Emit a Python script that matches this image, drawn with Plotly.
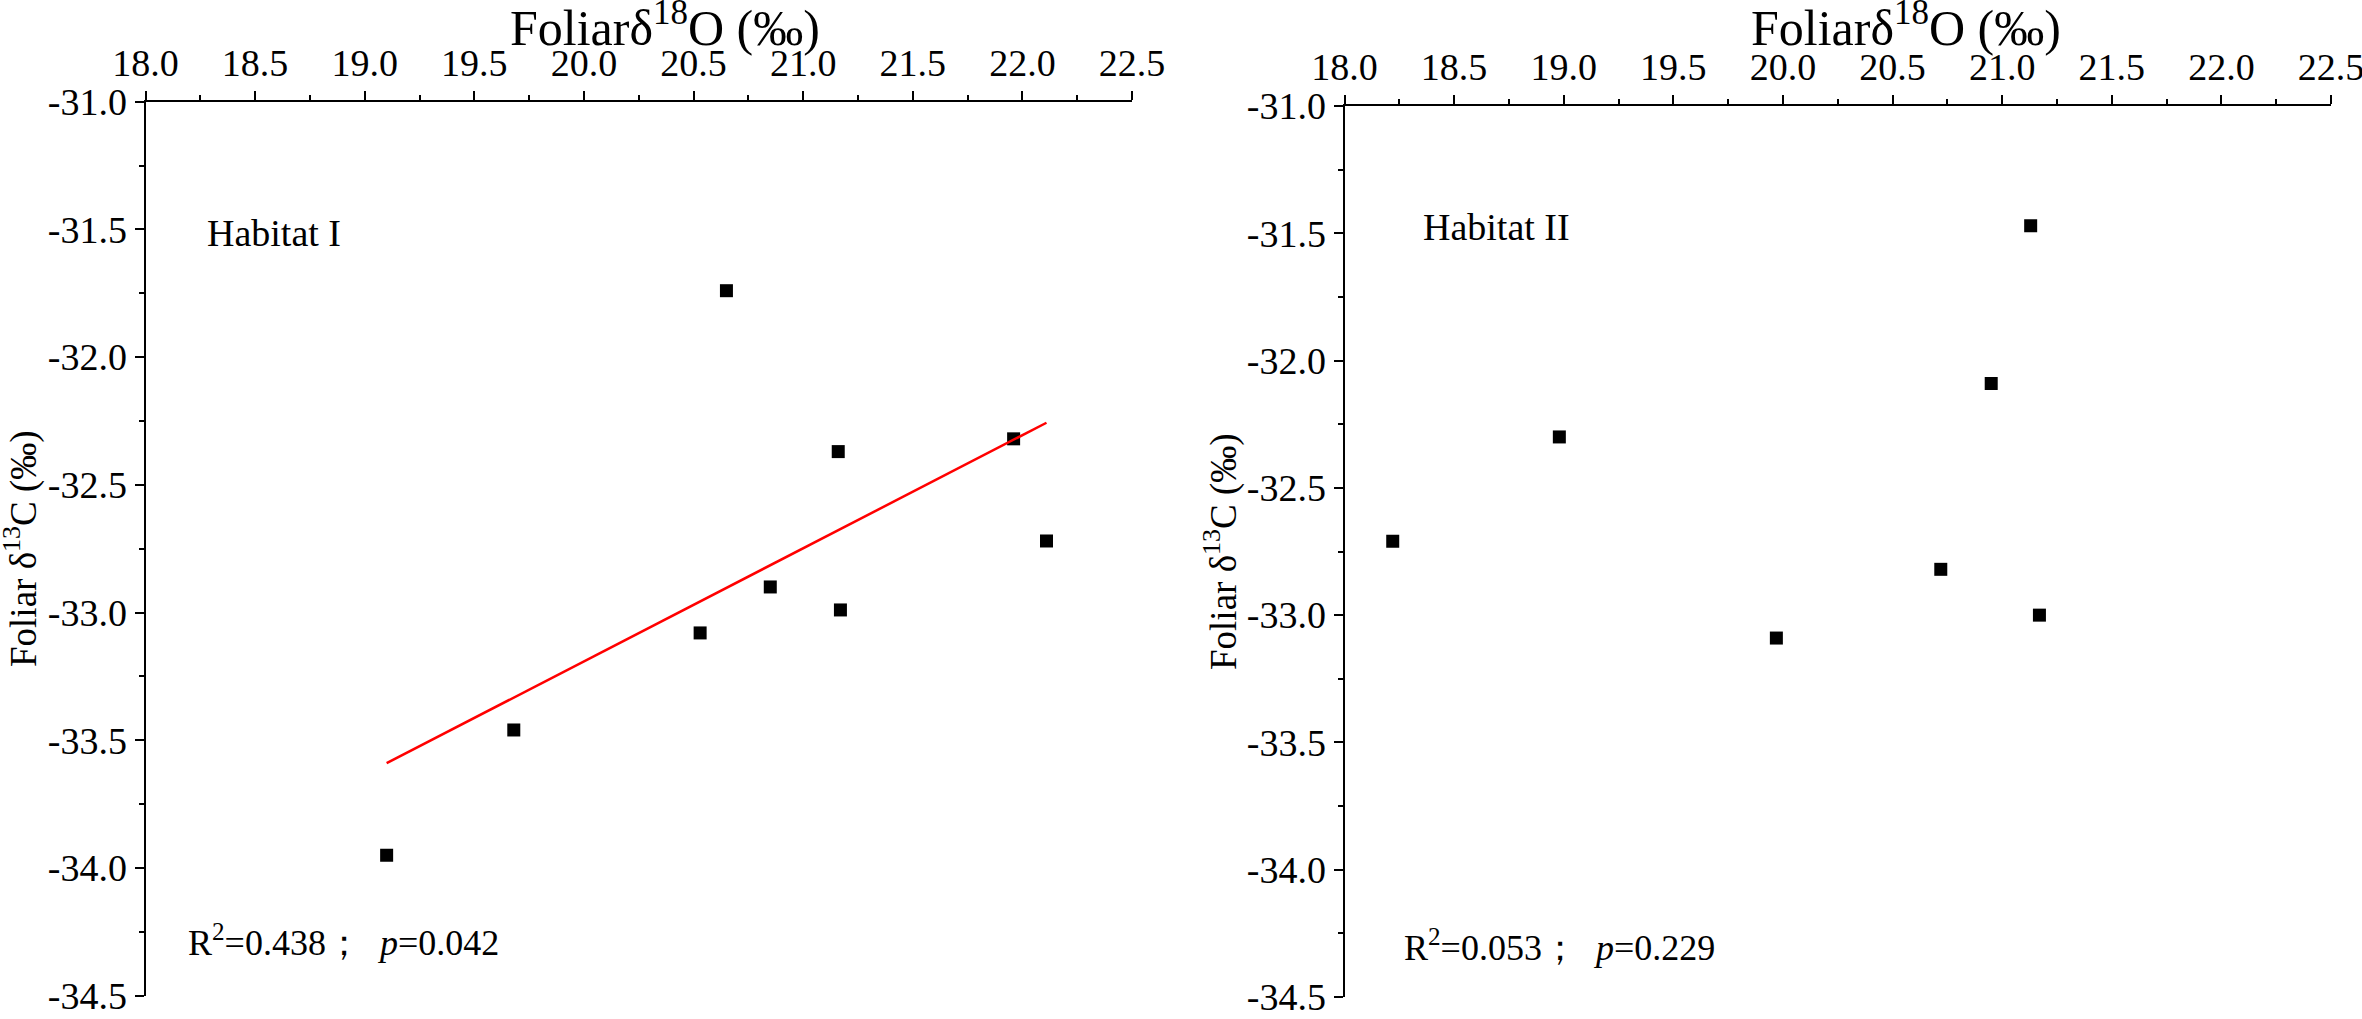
import numpy as np
import plotly.graph_objects as go
from plotly.subplots import make_subplots

# foliar d18O (x) vs foliar d13C (y)
hab1_d18o = [20.65, 21.16, 21.96, 22.11, 20.85, 21.17, 20.53, 19.68, 19.10]
hab1_d13c = [-31.74, -32.37, -32.32, -32.72, -32.90, -32.99, -33.08, -33.46, -33.95]
hab2_d18o = [21.13, 20.95, 18.98, 18.22, 20.72, 21.17, 19.97]
hab2_d13c = [-31.47, -32.09, -32.30, -32.71, -32.82, -33.00, -33.09]

x_ticks = [18.0, 18.5, 19.0, 19.5, 20.0, 20.5, 21.0, 21.5, 22.0, 22.5]
y_ticks = [-31.0, -31.5, -32.0, -32.5, -33.0, -33.5, -34.0, -34.5]
x_ticktext = ["%.1f" % v for v in x_ticks]
y_ticktext = ["%.1f" % v for v in y_ticks]   # plain hyphen like the original

hab_labels = ["Habitat I", "Habitat II"]
stats_text = ["R<sup>2</sup>=0.438；  <i>p</i>=0.042", "R<sup>2</sup>=0.053；  <i>p</i>=0.229"]

W, H = 2362, 1019
FONT = "Liberation Serif, Times New Roman, serif"


def px(x, y):
    # pixel position -> paper coords
    return x / W, 1 - y / H


#%% linear fit for habitat I
slope, icpt = np.polyfit(hab1_d18o, hab1_d13c, 1)
fit_x = np.array([min(hab1_d18o), max(hab1_d18o)])
fit_y = slope * fit_x + icpt

fig = make_subplots(rows=1, cols=2)

fig.add_trace(go.Scatter(x=hab1_d18o, y=hab1_d13c, mode="markers",
                         marker=dict(symbol="square", size=13, color="black"),
                         showlegend=False), row=1, col=1)
fig.add_trace(go.Scatter(x=fit_x, y=fit_y, mode="lines",
                         line=dict(color="red", width=2.5),
                         showlegend=False), row=1, col=1)
fig.add_trace(go.Scatter(x=hab2_d18o, y=hab2_d13c, mode="markers",
                         marker=dict(symbol="square", size=13, color="black"),
                         showlegend=False), row=1, col=2)

xdoms = [[145.5 / W, 1132 / W], [1344.5 / W, 2331 / W]]
ydoms = [[1 - 995.6 / H, 1 - 101.7 / H], [1 - 997 / H, 1 - 106 / H]]

for i in range(2):
    fig.update_xaxes(domain=xdoms[i], range=[18.0, 22.5], automargin=False,
                     tickvals=x_ticks, ticktext=x_ticktext, ticklabeloverflow="allow",
                     side="top", showline=True, linecolor="black",
                     linewidth=2, ticks="outside", ticklen=9, tickwidth=2,
                     tickcolor="black", showgrid=False, zeroline=False,
                     tickfont=dict(family=FONT, size=38, color="black"),
                     minor=dict(dtick=0.25, tick0=18, ticks="outside", ticklen=5,
                                tickwidth=2, tickcolor="black", showgrid=False),
                     row=1, col=i + 1)
    fig.update_yaxes(domain=ydoms[i], range=[-34.5, -31.0], automargin=False,
                     tickvals=y_ticks, ticktext=y_ticktext, ticklabeloverflow="allow",
                     showline=True, linecolor="black",
                     linewidth=2, ticks="outside", ticklen=9, tickwidth=2,
                     tickcolor="black", showgrid=False, zeroline=False,
                     tickfont=dict(family=FONT, size=38, color="black"),
                     minor=dict(dtick=0.25, tick0=-31, ticks="outside", ticklen=5,
                                tickwidth=2, tickcolor="black", showgrid=False),
                     row=1, col=i + 1)

annos = []
# top titles
for cx in [664.5, 1906]:
    x, y = px(cx, 58)
    annos.append(dict(x=x, y=y, text="Foliarδ<sup>18</sup>O (‰)", showarrow=False,
                      xref="paper", yref="paper", xanchor="center", yanchor="bottom",
                      font=dict(family=FONT, size=50, color="black")))
# y titles
for cx, cy in [(21, 549), (1221, 552)]:
    x, y = px(cx, cy)
    annos.append(dict(x=x, y=y, text="Foliar δ<sup>13</sup>C (‰)", showarrow=False,
                      textangle=-90, xref="paper", yref="paper",
                      xanchor="center", yanchor="middle",
                      font=dict(family=FONT, size=37, color="black")))
# habitat labels
for (lx, ly), lab in zip([(205, 233), (1421, 227)], hab_labels):
    x, y = px(lx, ly)
    annos.append(dict(x=x, y=y, text=lab, showarrow=False, xref="paper", yref="paper",
                      xanchor="left", yanchor="middle",
                      font=dict(family=FONT, size=38, color="black")))
# stats
for (lx, ly), txt in zip([(186, 940), (1402, 945)], stats_text):
    x, y = px(lx, ly)
    annos.append(dict(x=x, y=y, text=txt, showarrow=False, xref="paper", yref="paper",
                      xanchor="left", yanchor="middle",
                      font=dict(family=FONT, size=36, color="black")))

fig.update_layout(width=W, height=H, margin=dict(l=0, r=0, t=0, b=0, pad=0),
                  paper_bgcolor="white", plot_bgcolor="white",
                  annotations=annos, showlegend=False)

# default page has an 8px body margin -> figure shifted and clipped; drop it
fig.write_html("out.html", config={"displayModeBar": False},
               post_script="document.body.style.margin='0';document.body.style.overflow='hidden';")
